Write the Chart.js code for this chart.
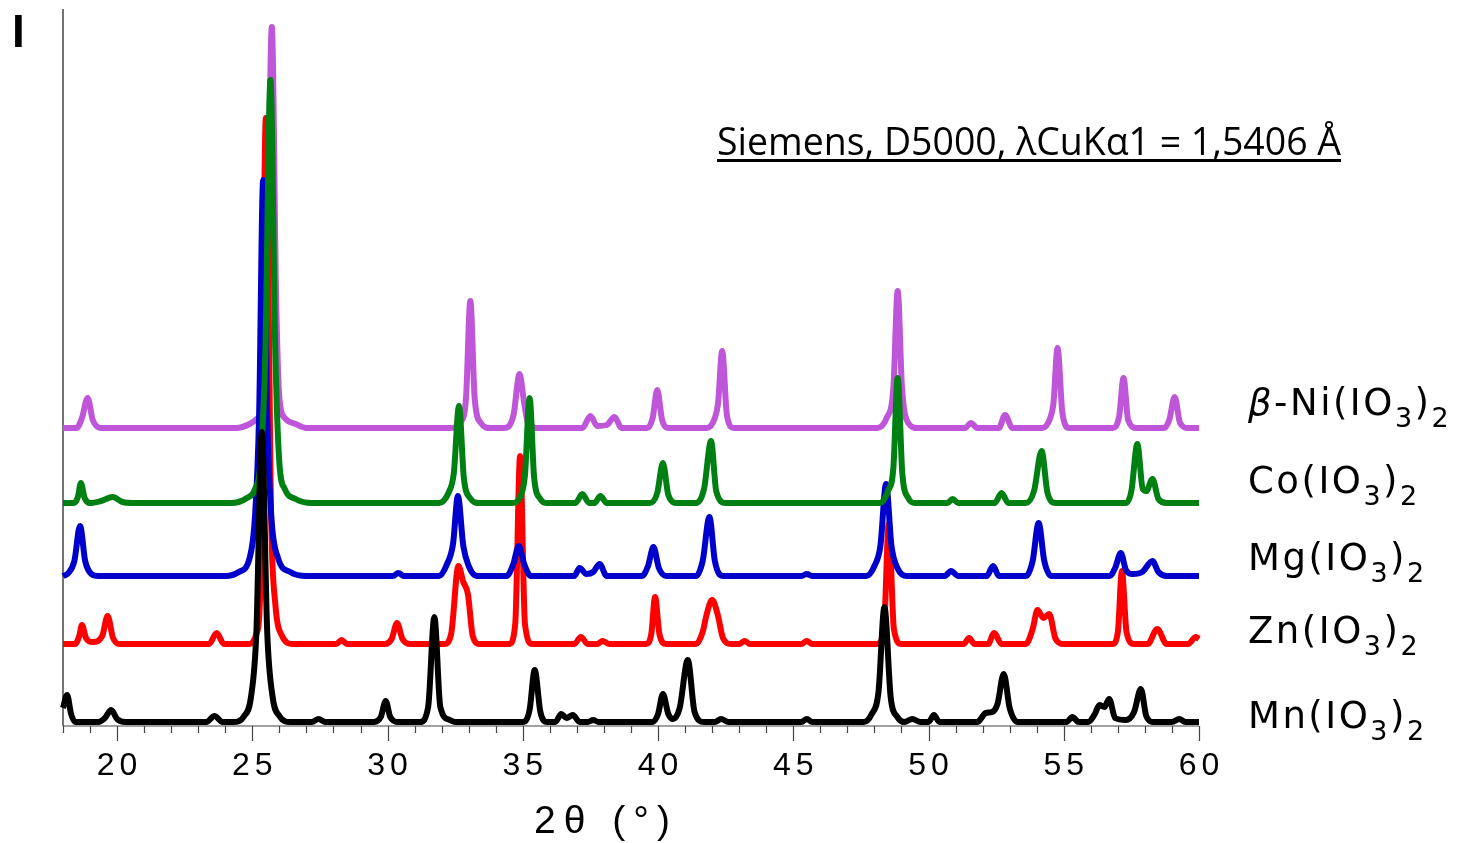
<!DOCTYPE html>
<html>
<head>
<meta charset="utf-8">
<script src="https://cdn.jsdelivr.net/npm/chart.js@4.4.1/dist/chart.umd.min.js"></script>
<style>
  html, body { margin: 0; padding: 0; background: #fff; }
  canvas { display: block; }
</style>
</head>
<body>
<canvas id="xrd" width="1459" height="843"></canvas>
<script>
// diffractograms: [2theta, intensity above own baseline]
var mnPattern = [
  [18.0, 14], [18.15, 27], [18.3, 8], [18.45, 0],
  [19.3, 0], [19.55, 4], [19.78, 12], [20.0, 3], [20.3, 0],
  [23.3, 0], [23.6, 6], [23.9, 0],
  [24.3, 0], [24.7, 6], [24.95, 25], [25.15, 90], [25.35, 290], [25.55, 90], [25.75, 25], [26.0, 6], [26.4, 0],
  [27.2, 0], [27.45, 3], [27.7, 0],
  [29.5, 0], [29.75, 5], [29.93, 21], [30.1, 5], [30.4, 0],
  [31.2, 0], [31.5, 15], [31.73, 105], [31.95, 15], [32.3, 2], [32.5, 0],
  [35.0, 0], [35.25, 12], [35.44, 52], [35.65, 10], [35.9, 0],
  [36.2, 0], [36.42, 8], [36.62, 4], [36.85, 7], [37.1, 0],
  [37.4, 0], [37.6, 2], [37.8, 0],
  [39.8, 0], [40.0, 8], [40.18, 28], [40.38, 8], [40.55, 3], [40.8, 14], [41.1, 62], [41.35, 10], [41.7, 0],
  [42.1, 0], [42.33, 3], [42.6, 0],
  [45.3, 0], [45.5, 3], [45.7, 0],
  [47.6, 0], [47.9, 8], [48.15, 30], [48.37, 115], [48.6, 25], [48.85, 5], [49.1, 0],
  [49.4, 3], [49.7, 0],
  [50.0, 0], [50.2, 7], [50.4, 0],
  [51.8, 0], [52.12, 9], [52.35, 10], [52.55, 18], [52.78, 48], [53.0, 14], [53.3, 0],
  [55.1, 0], [55.32, 5], [55.55, 0],
  [55.9, 0], [56.15, 8], [56.32, 17], [56.5, 15], [56.68, 23], [56.9, 4], [57.3, 2],
  [57.6, 10], [57.85, 33], [58.05, 6], [58.3, 0],
  [59.0, 0], [59.27, 3], [59.5, 0], [60.0, 0]
];
var znPattern = [
  [18.0, 0], [18.45, 0], [18.6, 8], [18.7, 19], [18.85, 6], [19.1, 2], [19.45, 8], [19.65, 28], [19.85, 6], [20.1, 0],
  [23.4, 0], [23.68, 11], [23.95, 0],
  [24.9, 0], [25.15, 10], [25.3, 60], [25.5, 526], [25.7, 120], [25.85, 40], [26.1, 8], [26.5, 0],
  [28.1, 0], [28.3, 4], [28.5, 0],
  [29.9, 0], [30.15, 5], [30.35, 21], [30.55, 5], [30.85, 0],
  [32.1, 0], [32.35, 10], [32.62, 78], [32.8, 62], [32.97, 50], [33.15, 8], [33.4, 0],
  [34.5, 0], [34.72, 20], [34.9, 188], [35.08, 20], [35.35, 0],
  [36.9, 0], [37.15, 7], [37.4, 0], [37.75, 0], [37.95, 3], [38.2, 0],
  [39.55, 0], [39.75, 10], [39.89, 47], [40.05, 10], [40.3, 0],
  [41.4, 0], [41.65, 12], [41.8, 30], [42.0, 44], [42.2, 30], [42.4, 6], [42.7, 0],
  [43.0, 0], [43.2, 3], [43.4, 0],
  [45.3, 0], [45.5, 3], [45.7, 0],
  [48.1, 0], [48.35, 15], [48.53, 120], [48.72, 15], [49.0, 0],
  [51.3, 0], [51.5, 6], [51.7, 0],
  [52.2, 0], [52.43, 11], [52.7, 0],
  [53.6, 0], [53.85, 15], [54.03, 34], [54.25, 26], [54.46, 30], [54.7, 5], [55.0, 0],
  [56.8, 0], [57.0, 12], [57.15, 73], [57.32, 12], [57.6, 0],
  [58.1, 0], [58.46, 15], [58.8, 0],
  [59.6, 0], [59.88, 7], [60.0, 5]
];
var mgPattern = [
  [18.0, 0], [18.2, 3], [18.42, 15], [18.63, 50], [18.82, 15], [19.05, 2], [19.3, 0],
  [24.0, 0], [24.5, 4], [24.9, 18], [25.1, 60], [25.25, 160], [25.4, 396], [25.55, 160], [25.7, 60], [25.95, 18], [26.4, 4], [27.0, 0],
  [30.2, 0], [30.4, 3], [30.6, 0],
  [31.9, 0], [32.2, 12], [32.42, 32], [32.6, 80], [32.8, 30], [33.0, 10], [33.3, 0],
  [34.4, 0], [34.65, 12], [34.85, 30], [35.05, 12], [35.3, 0],
  [36.9, 0], [37.1, 8], [37.35, 2], [37.6, 4], [37.84, 12], [38.1, 0],
  [39.4, 0], [39.63, 10], [39.83, 29], [40.03, 8], [40.3, 0],
  [41.4, 0], [41.65, 15], [41.9, 59], [42.1, 15], [42.4, 0],
  [45.3, 0], [45.5, 2], [45.7, 0],
  [47.7, 0], [48.0, 10], [48.22, 30], [48.43, 92], [48.63, 30], [48.85, 8], [49.2, 0],
  [50.6, 0], [50.83, 5], [51.1, 0],
  [52.15, 0], [52.39, 10], [52.6, 0],
  [53.6, 0], [53.85, 15], [54.07, 53], [54.28, 15], [54.55, 0],
  [56.7, 0], [56.9, 8], [57.11, 23], [57.3, 6], [57.55, 2], [57.9, 4], [58.28, 15], [58.5, 4], [58.8, 0], [60.0, 0]
];
var coPattern = [
  [18.0, 0], [18.4, 0], [18.55, 6], [18.66, 20], [18.8, 5], [19.0, 0], [19.4, 2], [19.84, 6], [20.2, 1], [20.6, 0],
  [24.2, 0], [24.8, 5], [25.1, 14], [25.3, 40], [25.48, 150], [25.67, 423], [25.85, 150], [26.0, 40], [26.2, 14], [26.6, 4], [27.2, 0],
  [31.9, 0], [32.25, 10], [32.45, 30], [32.64, 97], [32.82, 25], [33.05, 5], [33.4, 0],
  [34.6, 0], [34.9, 6], [35.08, 28], [35.25, 105], [35.42, 25], [35.65, 4], [35.9, 0],
  [36.95, 0], [37.2, 9], [37.45, 0], [37.65, 0], [37.87, 7], [38.1, 0],
  [39.7, 0], [39.97, 10], [40.18, 40], [40.38, 8], [40.7, 0],
  [41.4, 0], [41.7, 14], [41.96, 62], [42.15, 12], [42.5, 0],
  [48.2, 0], [48.5, 12], [48.7, 35], [48.86, 125], [49.03, 30], [49.25, 5], [49.5, 0],
  [50.7, 0], [50.89, 4], [51.1, 0],
  [52.45, 0], [52.7, 10], [52.95, 0],
  [53.6, 0], [53.9, 12], [54.18, 52], [54.4, 10], [54.7, 0],
  [57.3, 0], [57.5, 12], [57.72, 59], [57.92, 14], [58.05, 12], [58.28, 24], [58.5, 4], [58.8, 0], [60.0, 0]
];
var niPattern = [
  [18.0, 0], [18.5, 0], [18.7, 10], [18.91, 30], [19.1, 8], [19.4, 0],
  [24.4, 0], [24.9, 4], [25.2, 10], [25.4, 25], [25.55, 130], [25.72, 401], [25.88, 130], [26.0, 30], [26.2, 10], [26.6, 4], [27.0, 0],
  [32.3, 0], [32.7, 6], [32.9, 30], [33.06, 127], [33.22, 30], [33.45, 5], [33.8, 0],
  [34.3, 0], [34.65, 12], [34.88, 54], [35.05, 25], [35.2, 4], [35.5, 0],
  [37.2, 0], [37.5, 12], [37.75, 2], [38.1, 3], [38.39, 11], [38.65, 0],
  [39.6, 0], [39.8, 10], [39.97, 38], [40.15, 8], [40.4, 0],
  [41.8, 0], [42.1, 10], [42.22, 25], [42.37, 77], [42.55, 12], [42.8, 0],
  [48.1, 0], [48.45, 10], [48.7, 40], [48.86, 137], [49.02, 40], [49.25, 5], [49.6, 0],
  [51.35, 0], [51.57, 5], [51.8, 0],
  [52.6, 0], [52.83, 13], [53.1, 0],
  [54.2, 0], [54.5, 10], [54.62, 25], [54.77, 80], [54.95, 15], [55.2, 0],
  [56.8, 0], [57.05, 12], [57.21, 50], [57.38, 8], [57.7, 0],
  [58.7, 0], [58.9, 8], [59.1, 31], [59.3, 5], [59.6, 0], [60.0, 0]
];

// stacking offsets of the patterns (same intensity units)
var seriesNames = ['Mn(IO3)2', 'Co(IO3)2', 'Mg(IO3)2', 'Zn(IO3)2', 'β-Ni(IO3)2'];
var stackOffset = [4, 223, 150, 82, 298];
var patterns = [mnPattern, coPattern, mgPattern, znPattern, niPattern];
var tickValues = [20, 25, 30, 35, 40, 45, 50, 55, 60];

var colors = ['#000000', '#008012', '#0000cc', '#ff0000', '#bf55d8'];
// baseline of each name, in px below/above the trace baseline
var nameShift = [6, -10, -6, -1, -13];

function drawFormula(ctx, text, x, yBase, size) {
  var cx = x;
  for (var ch of text) {
    var sub = /[0-9]/.test(ch);
    var fs = sub ? Math.round(size * 0.72) : size;
    ctx.font = (ch === 'β' ? 'italic ' : '') + fs + 'px "DejaVu Sans"';
    ctx.fillText(ch, cx, yBase + (sub ? size * 0.33 : 0));
    cx += ctx.measureText(ch).width + 2.5;
  }
}

var decorations = {
  id: 'decorations',
  beforeDatasetsDraw: function(chart) {
    var ctx = chart.ctx, xs = chart.scales.x, a = chart.chartArea;
    ctx.save();
    ctx.strokeStyle = '#444';
    ctx.lineWidth = 1.5;
    ctx.beginPath();
    ctx.moveTo(a.left, 9);
    ctx.lineTo(a.left, a.bottom);
    ctx.stroke();
    ctx.lineWidth = 1.2;
    ctx.beginPath();
    ctx.moveTo(a.left, a.bottom);
    ctx.lineTo(a.right, a.bottom);
    for (var t = 18; t <= 60; t++) {
      var px = Math.round(xs.getPixelForValue(t)) + 0.5;
      ctx.moveTo(px, a.bottom);
      ctx.lineTo(px, a.bottom + (t % 5 === 0 ? 15 : 7));
    }
    ctx.stroke();
    ctx.restore();
  },
  afterDatasetsDraw: function(chart) {
    var ctx = chart.ctx, xs = chart.scales.x, ys = chart.scales.y, a = chart.chartArea;
    ctx.save();
    ctx.fillStyle = '#000';
    ctx.textBaseline = 'alphabetic';

    // tick labels
    ctx.font = '32px "Liberation Sans", Arial, sans-serif';
    ctx.textAlign = 'center';
    ctx.letterSpacing = '5px';
    tickValues.forEach(function(v) {
      ctx.fillText(String(v), xs.getPixelForValue(v) + 2.5, 775);
    });

    // axis title
    ctx.font = '39px "Liberation Sans", Arial, sans-serif';
    ctx.letterSpacing = '8px';
    ctx.fillText('2θ (°)', 606, 833);
    ctx.letterSpacing = '0px';

    // intensity label
    ctx.textAlign = 'left';
    ctx.font = 'bold 46px "Liberation Sans", Arial, sans-serif';
    ctx.fillText('I', 12, 47);

    // sample names
    seriesNames.forEach(function(name, i) {
      var yb = ys.getPixelForValue(stackOffset[i]) + nameShift[i];
      drawFormula(ctx, name, 1248, yb, 37);
    });

    // instrument note
    var note = 'Siemens, D5000, λCuKα1 = 1,5406 Å';
    ctx.font = '38px "Open Sans", sans-serif';
    var w = ctx.measureText(note).width;
    ctx.save();
    ctx.translate(717, 155);
    ctx.scale(624 / w, 1);
    ctx.fillText(note, 0, 0);
    ctx.restore();
    ctx.fillRect(717, 159, 624, 3);
    ctx.restore();
  }
};

new Chart(document.getElementById('xrd'), {
  type: 'line',
  data: {
    datasets: patterns.map(function(p, i) {
      return {
        label: seriesNames[i],
        data: p.map(function(d) { return { x: d[0], y: d[1] + stackOffset[i] }; }),
        borderColor: colors[i],
        borderWidth: 6,
        pointRadius: 0,
        fill: false,
        cubicInterpolationMode: 'monotone',
        borderJoinStyle: 'round',
        clip: 6
      };
    })
  },
  options: {
    responsive: false,
    devicePixelRatio: 1,
    animation: false,
    layout: { padding: { left: 63, right: 260, top: 10, bottom: 117 } },
    scales: {
      x: { type: 'linear', min: 18, max: 60, display: false },
      y: { min: 0, max: 716, display: false }
    },
    plugins: { legend: { display: false }, tooltip: { enabled: false } }
  },
  plugins: [decorations]
});
</script>
</body>
</html>
